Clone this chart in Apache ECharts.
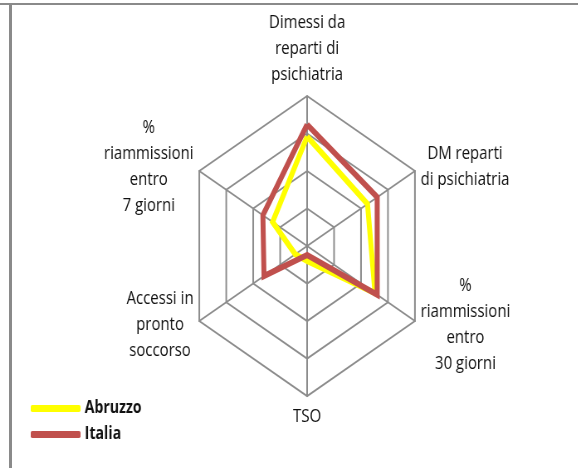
<!DOCTYPE html>
<html>
<head>
<meta charset="utf-8">
<script src="https://cdn.jsdelivr.net/npm/echarts@6/dist/echarts.min.js"></script>
<style>
	html, body { margin: 0; padding: 0; background: #fff; }
	#wrap { position: relative; width: 578px; height: 468px; overflow: hidden; }
	#main { position: absolute; left: 0; top: 0; width: 696px; height: 468px; transform: scaleX(0.83); transform-origin: 0 0; }
	.rule-top { position: absolute; left: 0; top: 3px; width: 578px; height: 2px; background: #8a8a8a; }
	.rule-left { position: absolute; left: 9px; top: 3px; width: 3px; height: 465px; background: #8a8a8a; }
</style>
</head>
<body>
<div id="wrap">
	<div class="rule-top"></div>
	<div class="rule-left"></div>
	<div id="main"></div>
</div>
<script>
	// indicatori (in senso antiorario partendo dall'alto)
	var indicatori = [
		'Dimessi da\nreparti di\npsichiatria',
		'%\nriammissioni\nentro\n7 giorni',
		'Accessi in\npronto\nsoccorso',
		'TSO',
		'%\nriammissioni\nentro\n30 giorni',
		'DM reparti\ndi psichiatria'
	];
	var valoreMax = 100;
	var abruzzo = [73, 32, 11, 10, 63, 56];
	var italia = [81, 41, 40, 6, 65, 65];

	var myChart = echarts.init(document.getElementById('main'), null, { width: 696, height: 468 });

	var option = {
		animation: false,
		legend: {
			orient: 'vertical',
			left: 32,
			top: 395,
			itemWidth: 60,
			itemHeight: 7,
			itemGap: 9,
			icon: 'roundRect',
			textStyle: {
				fontFamily: 'Open Sans',
				fontWeight: 'bold',
				fontSize: 17,
				color: '#111'
			},
			data: ['Abruzzo', 'Italia']
		},
		radar: {
			center: [370, 246],
			radius: 150,
			startAngle: 90,
			splitNumber: 4,
			shape: 'polygon',
			axisNameGap: 8,
			axisLine: { lineStyle: { color: '#8c8c8c', width: 2 } },
			splitLine: { lineStyle: { color: '#8c8c8c', width: 2 } },
			splitArea: { show: false },
			axisName: {
				formatter: function (name) {
					return name.split('\n').map(function (l) { return '{c|' + l + '}'; }).join('\n');
				},
				rich: {
					c: {
						align: 'center',
						fontFamily: 'Open Sans',
						fontSize: 18,
						lineHeight: 26,
						color: '#111'
					}
				}
			},
			indicator: indicatori.map(function (n) {
				return { name: n, max: valoreMax, min: 0 };
			})
		},
		series: [{
			type: 'radar',
			symbol: 'none',
			data: [{
				name: 'Abruzzo',
				value: abruzzo,
				itemStyle: { color: '#ffff00' },
				lineStyle: { color: '#ffff00', width: 6, join: 'miter' }
			}, {
				name: 'Italia',
				value: italia,
				itemStyle: { color: '#c0504d' },
				lineStyle: { color: '#c0504d', width: 6, join: 'miter' }
			}]
		}]
	};
	myChart.setOption(option);
</script>
</body>
</html>
